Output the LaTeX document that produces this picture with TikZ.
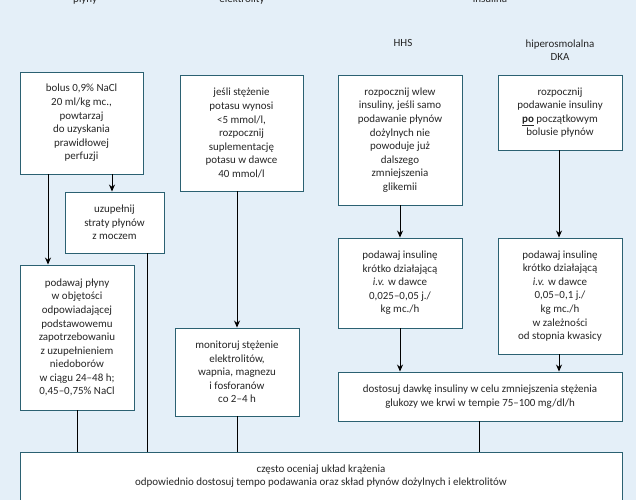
\documentclass[tikz,border=0pt]{standalone}
\usepackage{fontspec}
\setmainfont{Carlito}
\usepackage{xcolor}
\definecolor{frame}{HTML}{2B6172}
\definecolor{backdrop}{HTML}{E4EFF8}
\usepackage{tikz}
\usetikzlibrary{arrows.meta}

\begin{document}
\begin{tikzpicture}[x=1bp,y=-1bp,>={Stealth[length=7bp,width=6bp]},
  every node/.style={font=\fontsize{11}{13.6}\selectfont,text=black!85},
  box/.style={draw=frame,fill=white,rectangle,line width=0.9bp,align=center,inner sep=0pt}]
\useasboundingbox (0,0) rectangle (636,500);
\clip (0,0) rectangle (636,500);
\fill[backdrop] (0,0) rectangle (636,500);
\node[anchor=base] (Tp) at (85,3) {płyny};
\node[anchor=base] (Te) at (242,3) {elektrolity};
\node[anchor=base] (Ti) at (490,3) {insulina};
\node (Th) at (403,43) {HHS};
\node[align=center] (Tk) at (560,50) {hiperosmolalna\\DKA};
\node[box,minimum width=123bp,minimum height=102bp] (A) at (81.5,123) {bolus 0,9\% NaCl\\20 ml/kg mc.,\\powtarzaj\\do uzyskania\\prawidłowej\\perfuzji};
\node[box,minimum width=99bp,minimum height=61bp] (B) at (114.5,222.5) {uzupełnij\\straty płynów\\z moczem};
\node[box,minimum width=114bp,minimum height=145bp] (C) at (77,337.5) {podawaj płyny\\w objętości\\odpowiadającej\\podstawowemu\\zapotrzebowaniu\\z uzupełnieniem\\niedoborów\\w ciągu 24--48 h;\\0,45--0,75\% NaCl};
\node[box,minimum width=123bp,minimum height=116bp] (D) at (241.5,133) {jeśli stężenie\\potasu wynosi\\<5 mmol/l,\\rozpocznij\\suplementację\\potasu w dawce\\40 mmol/l};
\node[box,minimum width=124bp,minimum height=88bp] (E) at (237,372) {monitoruj stężenie\\elektrolitów,\\wapnia, magnezu\\i fosforanów\\co 2--4 h};
\node[box,minimum width=124bp,minimum height=130bp] (F) at (400,140) {rozpocznij wlew\\insuliny, jeśli samo\\podawanie płynów\\dożylnych nie\\powoduje już\\dalszego\\zmniejszenia\\glikemii};
\node[box,minimum width=124bp,minimum height=75bp] (G) at (560,112.5) {rozpocznij\\podawanie insuliny\\\underline{\textbf{po}} początkowym\\bolusie płynów};
\node[box,minimum width=124bp,minimum height=90bp] (H) at (400,283) {podawaj insulinę\\krótko działającą\\\textit{i.v.} w dawce\\0,025--0,05 j./\\kg mc./h};
\node[box,minimum width=124bp,minimum height=116bp] (I) at (560,296) {podawaj insulinę\\krótko działającą\\\textit{i.v.} w dawce\\0,05--0,1 j./\\kg mc./h\\w zależności\\od stopnia kwasicy};
\node[box,minimum width=284bp,minimum height=49bp] (J) at (480,396.5) {dostosuj dawkę insuliny w celu zmniejszenia stężenia\\glukozy we krwi w tempie 75--100 mg/dl/h};
\node[box,minimum width=602bp,minimum height=54bp,text depth=8bp] (K) at (321,479) {często oceniaj układ krążenia\\odpowiednio dostosuj tempo podawania oraz skład płynów dożylnych i elektrolitów};
\draw[->,line width=0.9bp] (A.south -| 112,0) -- (B.north -| 112,0);
\draw[->,line width=0.9bp] (A.south -| 48,0) -- (C.north -| 48,0);
\draw[line width=0.9bp] (B.south -| 147,0) -- (K.north -| 147,0);
\draw[line width=0.9bp] (C.south) -- (C.south |- K.north);
\draw[->,line width=0.9bp] (D.south -| 237,0) -- (E.north -| 237,0);
\draw[line width=0.9bp] (E.south) -- (E.south |- K.north);
\draw[->,line width=0.9bp] (F) -- (H);
\draw[->,line width=0.9bp] (G.south -| 559,0) -- (I.north -| 559,0);
\draw[->,line width=0.9bp] (H.south) -- (J.north -| H.south);
\draw[->,line width=0.9bp] (I.south -| 559,0) -- (J.north -| 559,0);
\draw[line width=0.9bp] (J.south -| 479,0) -- (K.north -| 479,0);
\end{tikzpicture}
\end{document}
